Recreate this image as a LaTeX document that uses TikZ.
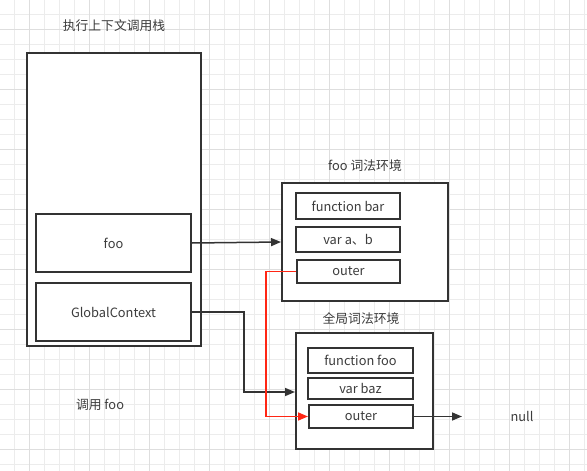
\documentclass[tikz,border=0pt]{standalone}
\usepackage{fontspec}
\setmainfont{Noto Sans CJK SC}
\usetikzlibrary{arrows.meta,positioning}
\definecolor{ink}{RGB}{51,51,51}
\definecolor{txt}{RGB}{60,60,60}
\definecolor{link}{RGB}{255,38,20}
\definecolor{gridmin}{RGB}{236,236,236}
\definecolor{gridmaj}{RGB}{222,222,222}

\begin{document}
\begin{tikzpicture}[x=1pt, y=-1pt,
  >={Stealth[length=10pt,width=8pt,inset=0pt]},
  font=\fontsize{12.8}{15}\selectfont,
  box/.style={draw=ink, line width=2pt, fill=white, inner sep=0pt, text=txt},
  label/.style={text=txt, inner sep=1pt},
  conn/.style={->, draw=ink, line width=1.5pt},
  outerlink/.style={->, draw=link, line width=1.5pt}]

\useasboundingbox (0,0) rectangle (587,471);

% grid
\foreach \g in {14,29,...,584}{
  \draw[gridmin, line width=1pt] (\g,0) -- (\g,471);
}
\foreach \g in {14,29,...,464}{
  \draw[gridmin, line width=1pt] (0,\g) -- (587,\g);
}
\foreach \g in {29,89,...,569}{
  \draw[gridmaj, line width=1pt] (\g,0) -- (\g,471);
}
\foreach \g in {29,89,...,449}{
  \draw[gridmaj, line width=1pt] (0,\g) -- (587,\g);
}

% call stack
\node[label] (stackT) at (114,26) {执行上下文调用栈};
\node[box, minimum width=174, minimum height=293] (stack) at (114,199.5) {};
\node[box, minimum width=155, minimum height=58] (foo) at (113.5,243) {foo};
\node[box, minimum width=155, minimum height=58] (gc) at (113.5,312) {GlobalContext};
\node[label] (callT) at (100,405) {调用 foo};

% foo lexical env
\node[label] (fooT) at (365,166) {foo 词法环境};
\node[box, minimum width=166, minimum height=118] (fooEnv) at (365,242) {};
\node[box, minimum width=104, minimum height=26] (fbar) at (348,206) {function bar};
\node[box, minimum width=104, minimum height=25] (vab) at (348,239.5) {var a、b};
\node[box, minimum width=103, minimum height=23] (fOut) at (348.5,271.5) {outer};

% global lexical env
\node[label] (gT) at (361,319) {全局词法环境};
\node[box, minimum width=137, minimum height=116] (gEnv) at (364.5,391) {};
\node[box, minimum width=105, minimum height=25] (ffoo) at (360.5,360.5) {function foo};
\node[box, minimum width=105, minimum height=21] (vbaz) at (360.5,388.5) {var baz};
\node[box, minimum width=104, minimum height=23] (gOut) at (361,416.5) {outer};

\node[label] (nul) at (522,416) {null};
\coordinate (gIn) at (gEnv.west |- 0,392);
\coordinate (nulEnd) at (462,416.5);

% connectors
\draw[conn] (foo.east) -- (fooEnv.west);
\draw[conn] (gc.east) -- ++(52,0) |- (gIn);
\draw[outerlink] (fOut.west) -- ++(-30,0) |- (gOut.west);
\draw[conn] (gOut.east) -- (nulEnd);
\end{tikzpicture}
\end{document}
